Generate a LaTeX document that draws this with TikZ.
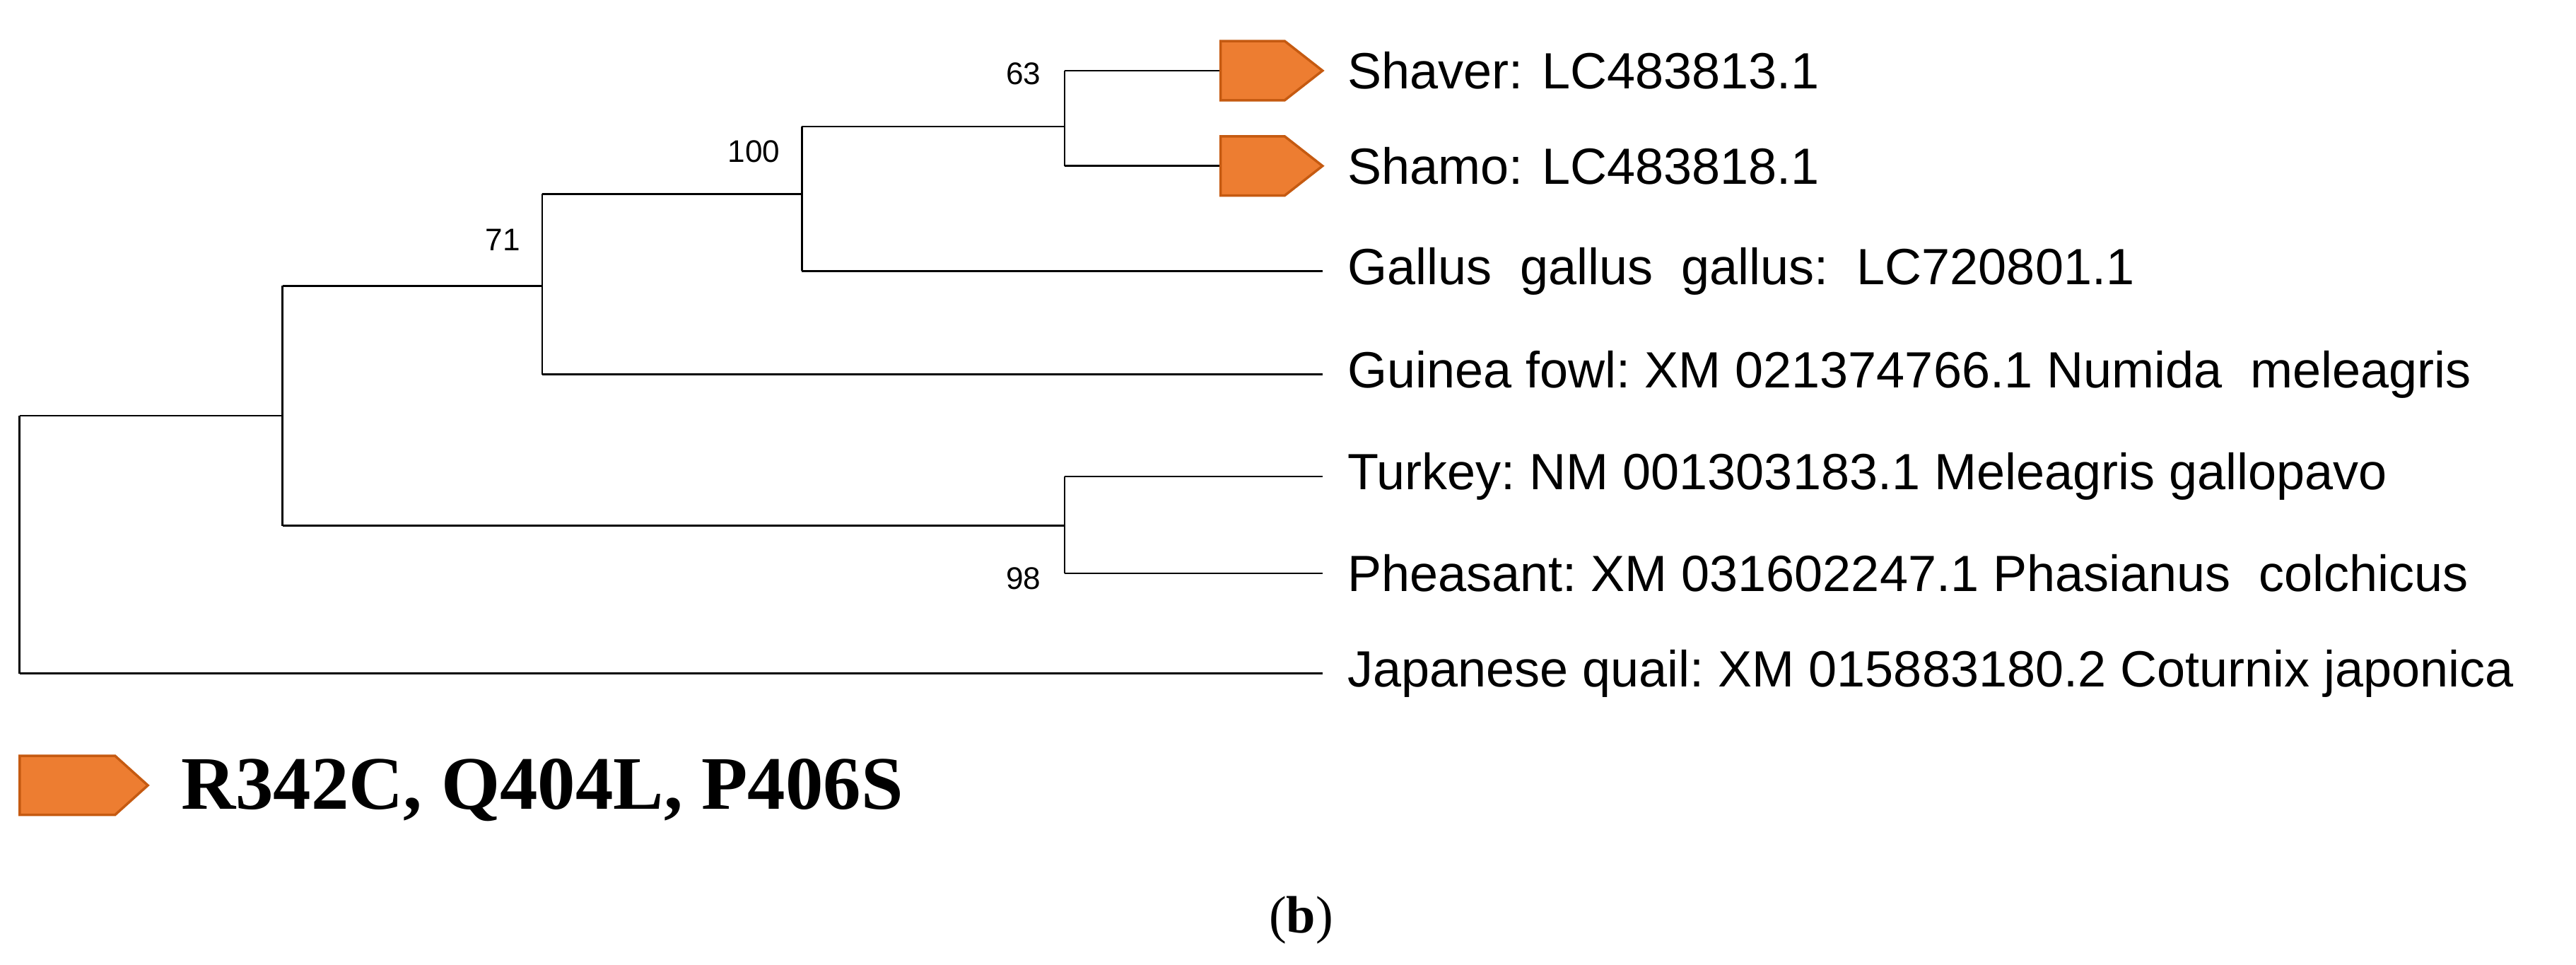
\documentclass[tikz,border=0pt]{standalone}
\usepackage{fontspec}
\setmainfont{Liberation Serif}
\newfontfamily\lsans{Liberation Sans}
\definecolor{org}{HTML}{ED7D31}
\definecolor{orgd}{HTML}{C55A11}
\begin{document}
\begin{tikzpicture}[x=1pt,y=-1pt,
 br/.style={line width=1.2pt,black},
 lab/.style={anchor=west,font=\lsans\fontsize{31}{33}\selectfont,inner sep=0pt},
 bs/.style={font=\lsans\fontsize{19}{20}\selectfont,inner sep=0pt},
 tag/.style={fill=org,draw=orgd,line width=1.5pt}]
\useasboundingbox (0,0) rectangle (1568,587);
% coordinates
\coordinate (r1) at (12,253); \coordinate (r2) at (12,410);
\coordinate (a1) at (172,174); \coordinate (a2) at (172,320);
\coordinate (b1) at (330,118); \coordinate (b2) at (330,228);
\coordinate (c1) at (488,77); \coordinate (c2) at (488,165);
\coordinate (d1) at (648,43); \coordinate (d2) at (648,101);
\coordinate (e1) at (648,290); \coordinate (e2) at (648,349);
\coordinate (t1) at (743,43); \coordinate (t2) at (743,101);
\coordinate (l3) at (805,165); \coordinate (l4) at (805,228);
\coordinate (l5) at (805,290); \coordinate (l6) at (805,349);
\coordinate (l7) at (805,410);
\draw[br] (r1)--(r2) (r1)--(a1|-r1) (r2)--(l7);
\draw[br] (a1)--(a2) (a1)--(b1|-a1) (a2)--(e1|-a2);
\draw[br] (b1)--(b2) (b1)--(c1|-b1) (b2)--(l4);
\draw[br] (c1)--(c2) (c1)--(d1|-c1) (c2)--(l3);
\draw[br] (d1)--(d2) (d1)--(t1) (d2)--(t2);
\draw[br] (e1)--(e2) (e1)--(l5) (e2)--(l6);
\draw[tag] (743,25)--(782,25)--(805,43)--(782,61)--(743,61)--cycle;
\draw[tag] (743,83)--(782,83)--(805,101)--(782,119)--(743,119)--cycle;
\node[lab] (n1) at (820,43) {Shaver: LC483813.1};
\node[lab] (n2) at (820,101) {Shamo: LC483818.1};
\node[lab] (n3) at (820,165) {Gallus\ \ gallus\ \ gallus:\ \ LC720801.1};
\node[lab] (n4) at (820,228) {Guinea fowl:\ XM 021374766.1 Numida\ \ meleagris};
\node[lab] (n5) at (820,290) {Turkey:\ NM 001303183.1 Meleagris gallopavo};
\node[lab] (n6) at (820,349) {Pheasant:\ XM 031602247.1 Phasianus\ \ colchicus};
\node[lab] (n7) at (820,410) {Japanese quail:\ XM 015883180.2 Coturnix japonica};
\node[bs] (s1) at (623,45) {63};
\node[bs] (s2) at (459,92) {100};
\node[bs] (s3) at (306,146) {71};
\node[bs] (s4) at (623,352) {98};
\draw[tag] (12,460)--(70,460)--(90,478)--(70,496)--(12,496)--cycle;
\node[anchor=west,inner sep=0pt,font=\bfseries\fontsize{46}{48}\selectfont] (lg) at (110,481) {R342C, Q404L, P406S};
\node[inner sep=0pt,font=\fontsize{32}{34}\selectfont] (cap) at (792,560) {(\textbf{b})};
\end{tikzpicture}
\end{document}
